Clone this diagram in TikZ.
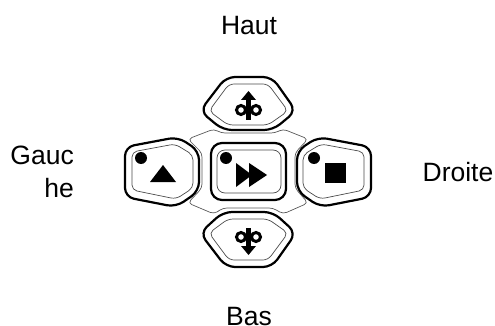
\documentclass[tikz,border=0pt]{standalone}
\usepackage{fontspec}
\setmainfont{Liberation Sans}

\begin{document}
\begin{tikzpicture}[y=-1pt,x=1pt,
	every node/.style={font=\fontsize{26.5}{33}\selectfont,inner sep=0pt},
	outerline/.style={line width=2.2pt,rounded corners=9pt,line join=round},
	innerline/.style={line width=0.7pt,draw=black!70,rounded corners=5pt},
	webline/.style={line width=0.7pt,draw=black!65,rounded corners=4pt},
	ringline/.style={line width=3pt}]
	\newcommand\TopPad{(226,77) -- (272,77) -- (296,111) -- (273,130) -- (223,130) -- (200,111) -- cycle}
	\newcommand\TopInner{(229,84) -- (268,84) -- (288,111) -- (268,125) -- (228,125) -- (209,111) -- cycle}
	\newcommand\BotPad{(226,267) -- (272,267) -- (296,233) -- (273,212) -- (223,212) -- (200,233) -- cycle}
	\newcommand\BotInner{(229,260) -- (268,260) -- (288,233) -- (268,219) -- (228,219) -- (209,233) -- cycle}
	\newcommand\LeftPad{(125,147) -- (178,137) -- (199,151) -- (199,191) -- (176,207) -- (125,197) -- cycle}
	\newcommand\LeftInner{(132,152) -- (175,144) -- (193,155) -- (193,188) -- (176,199) -- (132,190) -- cycle}
	\newcommand\RightPad{(371,147) -- (318,137) -- (297,151) -- (297,191) -- (320,207) -- (371,197) -- cycle}
	\newcommand\RightInner{(364,152) -- (321,144) -- (303,155) -- (303,188) -- (320,199) -- (364,190) -- cycle}

	\useasboundingbox (0,0) rectangle (495,326);

	\draw [webline] (188,139) -- (214,129) -- (221,133) -- (275,133) -- (283,129) -- (308,139)
		-- (295,153) -- (295,188) -- (308,203) -- (283,214) -- (273,208) -- (223,208) -- (214,214)
		-- (188,203) -- (202,188) -- (202,153) -- cycle;

	\draw [outerline,fill=white] \TopPad;
	\draw [innerline] \TopInner;
	\draw [outerline,fill=white] \BotPad;
	\draw [innerline] \BotInner;
	\draw [outerline,fill=white] \LeftPad;
	\draw [innerline] \LeftInner;
	\draw [outerline,fill=white] \RightPad;
	\draw [innerline] \RightInner;
	\draw [outerline,fill=white,rounded corners=11pt] (211,143) rectangle (286,200);
	\draw [innerline,rounded corners=8pt] (217,150) rectangle (281,193);

	% dots
	\fill (141,158) circle (6);
	\fill (226,158) circle (6);
	\fill (314,158) circle (6);

	% symbols
	\fill (163,165) -- (176,182) -- (150,182) -- cycle;
	\fill (236,163) -- (252,175) -- (236,187) -- cycle;
	\fill (249,163) -- (267,175) -- (249,187) -- cycle;
	\fill (325,163) rectangle (346,183);

	% up and down
	\draw [ringline] (241,110) circle (4.5);
	\draw [ringline] (256,110) circle (4.5);
	\fill (246,120) rectangle (251,99);
	\fill (248.5,91) -- (256,100) -- (241,100) -- cycle;
	\draw [ringline] (241,237) circle (4.5);
	\draw [ringline] (256,237) circle (4.5);
	\fill (246,228) rectangle (251,248);
	\fill (248.5,255) -- (256,246) -- (241,246) -- cycle;

	\node (haut) [anchor=base] at (249,35) {Haut};
	\node (bas) [anchor=base] at (249,325) {Bas};
	\node (droite) [anchor=base] at (458,181) {Droite};
	\node (gauche) [align=right,anchor=east] at (74,172) {Gauc\\he};
\end{tikzpicture}
\end{document}
